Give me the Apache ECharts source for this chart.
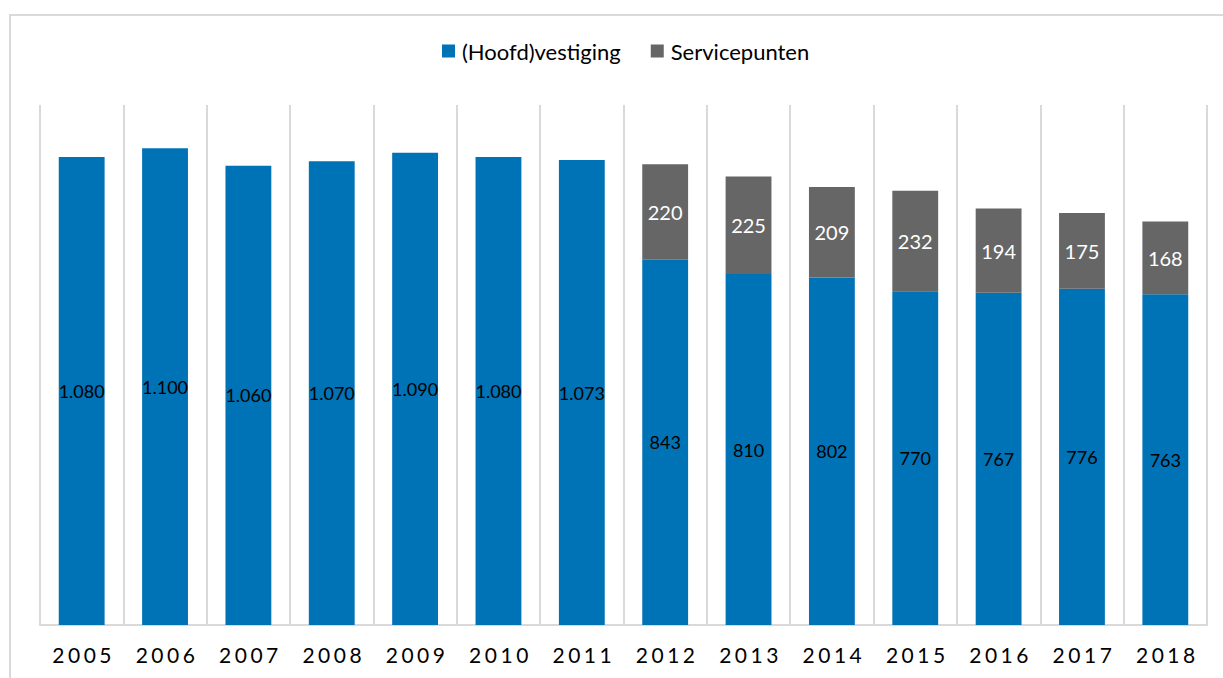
<!DOCTYPE html>
<html>
<head>
<meta charset="utf-8">
<script src="https://cdn.jsdelivr.net/npm/echarts@6/dist/echarts.min.js"></script>
<style>html,body{margin:0;padding:0;background:#fff}#c{width:1223px;height:678px}</style>
</head>
<body>
<div id="c"></div>
<script>
const years = ['2005','2006','2007','2008','2009','2010','2011','2012','2013','2014','2015','2016','2017','2018'];
const hoofdvestiging = [1080,1100,1060,1070,1090,1080,1073,843,810,802,770,767,776,763];
const servicepunten = [null,null,null,null,null,null,null,220,225,209,232,194,175,168];
const seriesNames = ['(Hoofd)vestiging','Servicepunten'];

const font = 'Lato, "Open Sans", sans-serif';
function fmt(v){ return String(v).replace(/\B(?=(\d{3})+(?!\d))/g,'.'); }

const chart = echarts.init(document.getElementById('c'), null, {renderer:'svg'});
chart.setOption({
  animation:false,
  textStyle:{fontFamily:font},
  graphic:[{type:'rect',shape:{x:10,y:15,width:1240,height:700},style:{fill:'none',stroke:'#d9d9d9',lineWidth:2},z:-1}],
  legend:{
    top:35,left:437,itemWidth:13,itemHeight:13,itemGap:30,icon:'rect',
    textStyle:{fontSize:22,color:'#000',fontFamily:font,padding:[0,0,0,2]},
    data:seriesNames
  },
  grid:{left:40,right:16,top:105,bottom:53},
  xAxis:{
    type:'category',data:years,
    axisLine:{lineStyle:{color:'#d9d9d9',width:2}},
    axisTick:{show:false},
    splitLine:{show:true,lineStyle:{color:'#d9d9d9',width:2}},
    axisLabel:{fontSize:21,color:'#000',margin:19,fontFamily:font}
  },
  yAxis:{type:'value',min:0,max:1200,show:false,splitLine:{show:false}},
  series:[
    {name:seriesNames[0],type:'bar',stack:'a',data:hoofdvestiging,barWidth:'55%',
     itemStyle:{color:'#0072b6'},
     label:{show:true,position:'inside',color:'#000',fontSize:18,fontFamily:font,formatter:p=>fmt(p.value)}},
    {name:seriesNames[1],type:'bar',stack:'a',data:servicepunten,barWidth:'55%',
     itemStyle:{color:'#666666'},
     label:{show:true,position:'inside',color:'#fff',fontSize:20,fontFamily:font,formatter:p=>fmt(p.value)}}
  ]
});
// widen letter spacing of the year axis labels (styling only)
document.querySelectorAll('#c svg text').forEach(t=>{
  if (years.indexOf(t.textContent.trim()) >= 0) {
    t.style.letterSpacing = '3.5px';
    t.setAttribute('dx','2');
  }
});
</script>
</body>
</html>
